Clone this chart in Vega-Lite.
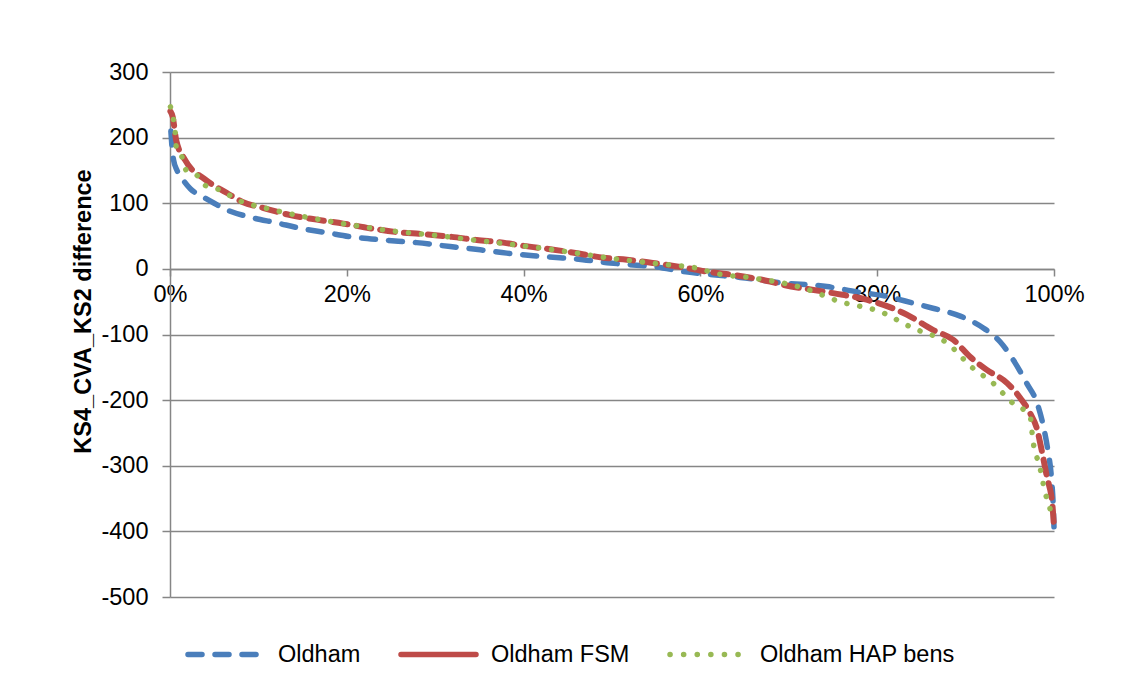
{
  "$schema": "https://vega.github.io/schema/vega-lite/v6.json",
  "autosize": {"type": "none"},
  "padding": {"left": 170, "top": 72, "right": 84, "bottom": 91},
  "width": 884,
  "height": 525,
  "background": "white",
  "config": {
    "font": "Liberation Sans",
    "view": {"stroke": null},
    "axis": {"labelFont": "Liberation Sans", "titleFont": "Liberation Sans", "labelColor": "black", "titleColor": "black"}
  },
  "data": {
    "values": [
      {"series": "Oldham", "p": 0.001, "v": 210},
      {"series": "Oldham", "p": 0.002, "v": 190},
      {"series": "Oldham", "p": 0.004, "v": 166},
      {"series": "Oldham", "p": 0.008, "v": 150},
      {"series": "Oldham", "p": 0.015, "v": 135},
      {"series": "Oldham", "p": 0.023, "v": 122},
      {"series": "Oldham", "p": 0.037, "v": 110},
      {"series": "Oldham", "p": 0.05, "v": 100},
      {"series": "Oldham", "p": 0.064, "v": 90},
      {"series": "Oldham", "p": 0.09, "v": 79},
      {"series": "Oldham", "p": 0.121, "v": 70},
      {"series": "Oldham", "p": 0.147, "v": 62},
      {"series": "Oldham", "p": 0.178, "v": 55},
      {"series": "Oldham", "p": 0.204, "v": 49},
      {"series": "Oldham", "p": 0.241, "v": 44},
      {"series": "Oldham", "p": 0.279, "v": 40},
      {"series": "Oldham", "p": 0.317, "v": 34},
      {"series": "Oldham", "p": 0.351, "v": 29},
      {"series": "Oldham", "p": 0.381, "v": 24},
      {"series": "Oldham", "p": 0.411, "v": 20},
      {"series": "Oldham", "p": 0.441, "v": 17},
      {"series": "Oldham", "p": 0.467, "v": 14},
      {"series": "Oldham", "p": 0.498, "v": 9},
      {"series": "Oldham", "p": 0.524, "v": 6},
      {"series": "Oldham", "p": 0.551, "v": 3},
      {"series": "Oldham", "p": 0.58, "v": -4},
      {"series": "Oldham", "p": 0.614, "v": -9},
      {"series": "Oldham", "p": 0.645, "v": -13},
      {"series": "Oldham", "p": 0.69, "v": -21},
      {"series": "Oldham", "p": 0.743, "v": -27},
      {"series": "Oldham", "p": 0.777, "v": -35},
      {"series": "Oldham", "p": 0.811, "v": -42},
      {"series": "Oldham", "p": 0.84, "v": -52},
      {"series": "Oldham", "p": 0.863, "v": -60},
      {"series": "Oldham", "p": 0.894, "v": -72},
      {"series": "Oldham", "p": 0.92, "v": -90},
      {"series": "Oldham", "p": 0.939, "v": -111},
      {"series": "Oldham", "p": 0.954, "v": -139},
      {"series": "Oldham", "p": 0.969, "v": -174},
      {"series": "Oldham", "p": 0.981, "v": -205},
      {"series": "Oldham", "p": 0.988, "v": -240},
      {"series": "Oldham", "p": 0.993, "v": -276},
      {"series": "Oldham", "p": 0.997, "v": -317},
      {"series": "Oldham", "p": 0.999, "v": -357},
      {"series": "Oldham", "p": 1.0, "v": -393},
      {"series": "Oldham FSM", "p": 0.0005, "v": 240},
      {"series": "Oldham FSM", "p": 0.003, "v": 232},
      {"series": "Oldham FSM", "p": 0.007, "v": 196},
      {"series": "Oldham FSM", "p": 0.017, "v": 166},
      {"series": "Oldham FSM", "p": 0.04, "v": 136},
      {"series": "Oldham FSM", "p": 0.064, "v": 116},
      {"series": "Oldham FSM", "p": 0.082, "v": 102},
      {"series": "Oldham FSM", "p": 0.105, "v": 93},
      {"series": "Oldham FSM", "p": 0.136, "v": 82},
      {"series": "Oldham FSM", "p": 0.166, "v": 75},
      {"series": "Oldham FSM", "p": 0.196, "v": 69},
      {"series": "Oldham FSM", "p": 0.226, "v": 62},
      {"series": "Oldham FSM", "p": 0.257, "v": 56},
      {"series": "Oldham FSM", "p": 0.286, "v": 53},
      {"series": "Oldham FSM", "p": 0.317, "v": 49},
      {"series": "Oldham FSM", "p": 0.347, "v": 44},
      {"series": "Oldham FSM", "p": 0.377, "v": 40},
      {"series": "Oldham FSM", "p": 0.4, "v": 35},
      {"series": "Oldham FSM", "p": 0.43, "v": 30},
      {"series": "Oldham FSM", "p": 0.464, "v": 23},
      {"series": "Oldham FSM", "p": 0.49, "v": 17},
      {"series": "Oldham FSM", "p": 0.517, "v": 14},
      {"series": "Oldham FSM", "p": 0.546, "v": 9},
      {"series": "Oldham FSM", "p": 0.577, "v": 3},
      {"series": "Oldham FSM", "p": 0.611, "v": -5},
      {"series": "Oldham FSM", "p": 0.641, "v": -10},
      {"series": "Oldham FSM", "p": 0.671, "v": -17},
      {"series": "Oldham FSM", "p": 0.693, "v": -24},
      {"series": "Oldham FSM", "p": 0.75, "v": -37},
      {"series": "Oldham FSM", "p": 0.788, "v": -47},
      {"series": "Oldham FSM", "p": 0.834, "v": -70},
      {"series": "Oldham FSM", "p": 0.863, "v": -93},
      {"series": "Oldham FSM", "p": 0.886, "v": -108},
      {"series": "Oldham FSM", "p": 0.905, "v": -134},
      {"series": "Oldham FSM", "p": 0.924, "v": -154},
      {"series": "Oldham FSM", "p": 0.947, "v": -174},
      {"series": "Oldham FSM", "p": 0.962, "v": -197},
      {"series": "Oldham FSM", "p": 0.973, "v": -220},
      {"series": "Oldham FSM", "p": 0.981, "v": -245},
      {"series": "Oldham FSM", "p": 0.986, "v": -276},
      {"series": "Oldham FSM", "p": 0.992, "v": -317},
      {"series": "Oldham FSM", "p": 0.998, "v": -357},
      {"series": "Oldham FSM", "p": 1.0, "v": -393},
      {"series": "Oldham HAP bens", "p": 0.0005, "v": 247},
      {"series": "Oldham HAP bens", "p": 0.004, "v": 227},
      {"series": "Oldham HAP bens", "p": 0.006, "v": 207},
      {"series": "Oldham HAP bens", "p": 0.007, "v": 186},
      {"series": "Oldham HAP bens", "p": 0.014, "v": 169},
      {"series": "Oldham HAP bens", "p": 0.018, "v": 151},
      {"series": "Oldham HAP bens", "p": 0.031, "v": 142},
      {"series": "Oldham HAP bens", "p": 0.04, "v": 127},
      {"series": "Oldham HAP bens", "p": 0.053, "v": 122},
      {"series": "Oldham HAP bens", "p": 0.08, "v": 103},
      {"series": "Oldham HAP bens", "p": 0.11, "v": 92},
      {"series": "Oldham HAP bens", "p": 0.15, "v": 80},
      {"series": "Oldham HAP bens", "p": 0.2, "v": 68},
      {"series": "Oldham HAP bens", "p": 0.25, "v": 58},
      {"series": "Oldham HAP bens", "p": 0.3, "v": 51},
      {"series": "Oldham HAP bens", "p": 0.35, "v": 43},
      {"series": "Oldham HAP bens", "p": 0.4, "v": 35},
      {"series": "Oldham HAP bens", "p": 0.45, "v": 26},
      {"series": "Oldham HAP bens", "p": 0.5, "v": 16},
      {"series": "Oldham HAP bens", "p": 0.55, "v": 8},
      {"series": "Oldham HAP bens", "p": 0.6, "v": 0},
      {"series": "Oldham HAP bens", "p": 0.614, "v": -6},
      {"series": "Oldham HAP bens", "p": 0.66, "v": -14},
      {"series": "Oldham HAP bens", "p": 0.716, "v": -29},
      {"series": "Oldham HAP bens", "p": 0.758, "v": -50},
      {"series": "Oldham HAP bens", "p": 0.803, "v": -65},
      {"series": "Oldham HAP bens", "p": 0.84, "v": -90},
      {"series": "Oldham HAP bens", "p": 0.879, "v": -113},
      {"series": "Oldham HAP bens", "p": 0.908, "v": -151},
      {"series": "Oldham HAP bens", "p": 0.931, "v": -174},
      {"series": "Oldham HAP bens", "p": 0.952, "v": -203},
      {"series": "Oldham HAP bens", "p": 0.973, "v": -225},
      {"series": "Oldham HAP bens", "p": 0.976, "v": -260},
      {"series": "Oldham HAP bens", "p": 0.984, "v": -302},
      {"series": "Oldham HAP bens", "p": 0.99, "v": -341},
      {"series": "Oldham HAP bens", "p": 0.995, "v": -363},
      {"series": "Oldham HAP bens", "p": 0.999, "v": -383}
    ]
  },
  "encoding": {
    "x": {
      "field": "p", "type": "quantitative",
      "scale": {"domain": [0, 1], "nice": false, "zero": false},
      "axis": {
        "title": null, "format": ".0%", "values": [0, 0.2, 0.4, 0.6, 0.8, 1],
        "offset": -328, "grid": false, "labelFlush": false,
        "domainColor": "#868686", "domainWidth": 1.5, "tickColor": "#868686", "tickWidth": 1.5, "tickSize": 7,
        "labelFontSize": 23.5, "labelPadding": 6
      }
    },
    "y": {
      "field": "v", "type": "quantitative",
      "scale": {"domain": [-500, 300], "nice": false},
      "axis": {
        "title": "KS4_CVA_KS2 difference", "values": [-500, -400, -300, -200, -100, 0, 100, 200, 300],
        "labelExpr": "replace(datum.label, '\u2212', '-')",
        "grid": true, "gridColor": "#868686", "gridWidth": 1.5, "labelFlush": false,
        "domainColor": "#868686", "domainWidth": 1.5, "tickColor": "#868686", "tickWidth": 1.5, "tickSize": 8,
        "labelFontSize": 23.5, "labelPadding": 14,
        "titleFontSize": 23.5, "titleFontWeight": "bold",
        "titleX": -80, "titleY": 239, "titleBaseline": "alphabetic", "titleAngle": 270
      }
    },
    "color": {
      "field": "series", "type": "nominal",
      "scale": {"domain": ["Oldham", "Oldham FSM", "Oldham HAP bens"], "range": ["#4a7ebb", "#be4b48", "#98b954"]},
      "legend": {
        "title": null, "orient": "none", "direction": "horizontal", "legendX": 15, "legendY": 542,
        "labelFontSize": 23.5, "labelColor": "black", "labelFont": "Liberation Sans", "labelLimit": 0,
        "symbolType": "stroke", "symbolSize": 5625, "symbolStrokeWidth": 5.5, "labelOffset": 12, "columnPadding": 29,
        "encode": {"symbols": {"update": {"strokeDash": {"signal": "datum.value == 'Oldham FSM' ? [1,0] : datum.value == 'Oldham' ? [14,13] : [0.1,13.5]"}, "strokeCap": {"value": "round"}}}}
      }
    }
  },
  "layer": [
    {
      "transform": [{"filter": "datum.series == 'Oldham'"}],
      "mark": {"type": "line", "strokeCap": "round", "strokeJoin": "round", "interpolate": "monotone", "strokeDash": [14, 13], "strokeWidth": 5.5}
    },
    {
      "transform": [{"filter": "datum.series == 'Oldham FSM'"}],
      "mark": {"type": "line", "strokeCap": "round", "strokeJoin": "round", "interpolate": "monotone", "strokeDash": [15, 9], "strokeWidth": 6}
    },
    {
      "transform": [{"filter": "datum.series == 'Oldham HAP bens'"}],
      "mark": {"type": "line", "strokeCap": "round", "strokeJoin": "round", "interpolate": "monotone", "strokeDash": [0.1, 13], "strokeWidth": 5.5}
    }
  ]
}
